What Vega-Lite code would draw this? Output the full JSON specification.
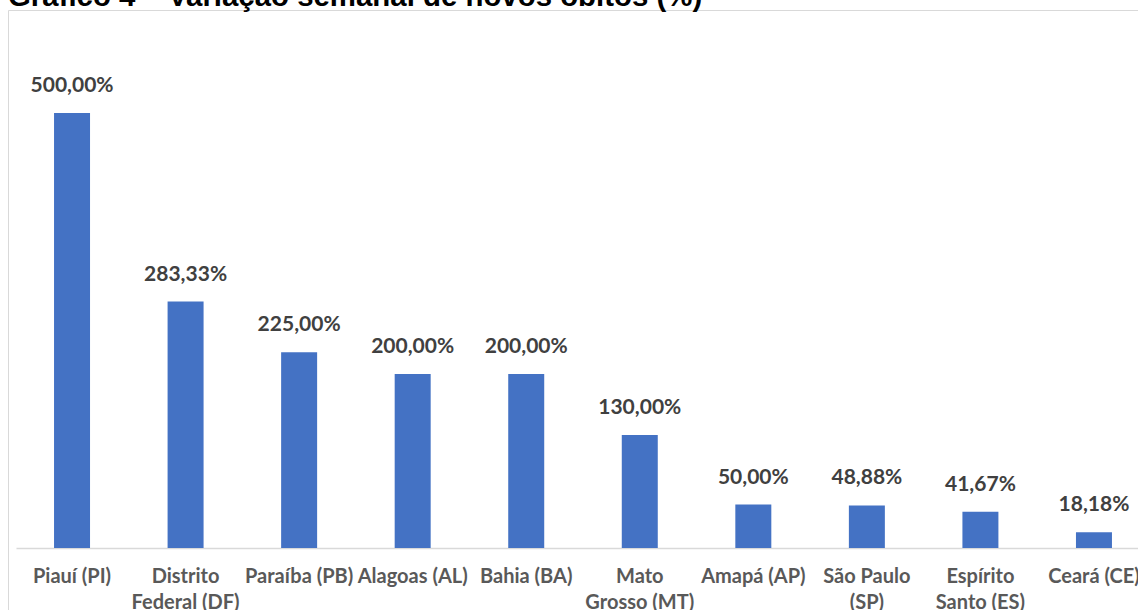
{
  "$schema": "https://vega.github.io/schema/vega-lite/v6.json",
  "autosize": "none",
  "padding": {"left": 8, "top": 10, "right": 0, "bottom": 0},
  "width": 1150,
  "height": 610,
  "background": "white",
  "config": {
    "view": {"stroke": "#d9d9d9", "strokeWidth": 1},
    "font": "Lato"
  },
  "title": {
    "text": "Gráfico 4 – Variação semanal de novos óbitos (%)",
    "anchor": "start",
    "font": "Liberation Sans",
    "fontSize": 29.4,
    "fontWeight": "bold",
    "color": "#000000",
    "baseline": "alphabetic",
    "offset": 4,
    "dy": 29
  },
  "data": {
    "values": [
      {"estado": "Piauí (PI)", "variacao": 500.00},
      {"estado": "Distrito|Federal (DF)", "variacao": 283.33},
      {"estado": "Paraíba (PB)", "variacao": 225.00},
      {"estado": "Alagoas (AL)", "variacao": 200.00},
      {"estado": "Bahia (BA)", "variacao": 200.00},
      {"estado": "Mato|Grosso (MT)", "variacao": 130.00},
      {"estado": "Amapá (AP)", "variacao": 50.00},
      {"estado": "São Paulo|(SP)", "variacao": 48.88},
      {"estado": "Espírito|Santo (ES)", "variacao": 41.67},
      {"estado": "Ceará (CE)", "variacao": 18.18}
    ]
  },
  "transform": [
    {"calculate": "replace(format(datum.variacao, '.2f'), '.', ',') + '%'", "as": "rotulo"}
  ],
  "encoding": {
    "x": {
      "field": "estado",
      "type": "nominal",
      "sort": null,
      "scale": {"range": [8, 1142], "paddingInner": 0.683, "paddingOuter": 0.335},
      "axis": {
        "title": null,
        "labelAngle": 0,
        "ticks": false,
        "domainColor": "#d9d9d9",
        "domainWidth": 1.5,
        "offset": -72,
        "labelExpr": "split(datum.label, '|')",
        "labelFont": "Lato",
        "labelFontSize": 20,
        "labelFontWeight": "bold",
        "labelColor": "#595959",
        "labelPadding": 18,
        "labelLineHeight": 26,
        "labelLimit": 0
      }
    },
    "y": {
      "field": "variacao",
      "type": "quantitative",
      "scale": {"domain": [0, 500], "range": [538, 103], "nice": false},
      "axis": null
    }
  },
  "layer": [
    {"mark": {"type": "bar", "color": "#4472C4"}},
    {
      "mark": {
        "type": "text",
        "font": "Lato",
        "fontSize": 21,
        "fontWeight": "bold",
        "color": "#404040",
        "baseline": "alphabetic",
        "dy": -21
      },
      "encoding": {"text": {"field": "rotulo"}}
    }
  ]
}
